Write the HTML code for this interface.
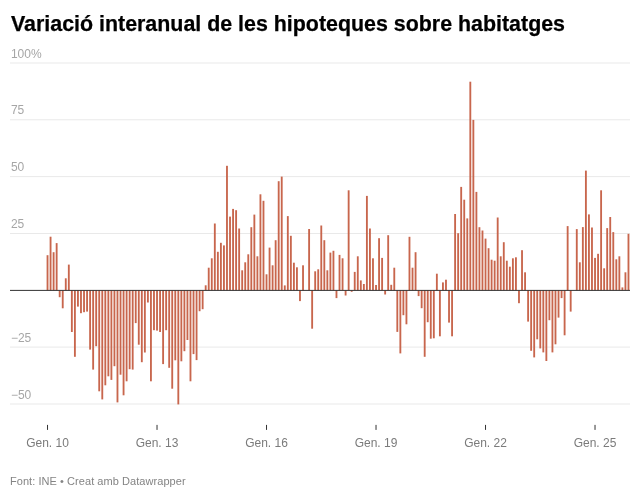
<!DOCTYPE html>
<html lang="ca"><head><meta charset="utf-8"><title>Variació interanual de les hipoteques sobre habitatges</title>
<style>
html,body{margin:0;padding:0;background:#fff;}
body{width:640px;height:498px;position:relative;overflow:hidden;font-family:"Liberation Sans",sans-serif;}
h1{position:absolute;left:11.2px;top:8.5px;margin:0;font-size:22.5px;line-height:30px;font-weight:700;color:#000;white-space:nowrap;letter-spacing:0px;word-spacing:0px;transform-origin:0 0;transform:scaleX(0.9508);-webkit-text-stroke:0.25px #000;}
svg{position:absolute;left:0;top:0;}
svg text{font-family:"Liberation Sans",sans-serif;}
.yl{font-size:12px;fill:#a6a6a6;}
.xl{font-size:12px;fill:#7b7b7b;text-anchor:middle;}
.ft{position:absolute;left:10px;top:473.6px;font-size:11px;line-height:14px;color:#848484;white-space:nowrap;letter-spacing:0.055px;}
</style></head><body>
<h1>Variació interanual de les hipoteques sobre habitatges</h1>
<svg width="640" height="498" viewBox="0 0 640 498">
<g stroke="#e9e9e9" stroke-width="1">
<line x1="10" x2="630" y1="63.0" y2="63.0"/>
<line x1="10" x2="630" y1="119.8" y2="119.8"/>
<line x1="10" x2="630" y1="176.6" y2="176.6"/>
<line x1="10" x2="630" y1="233.5" y2="233.5"/>
<line x1="10" x2="630" y1="347.1" y2="347.1"/>
<line x1="10" x2="630" y1="404.0" y2="404.0"/>
</g>
<g class="yl">
<text x="10.9" y="57.5">100%</text>
<text x="10.9" y="114.3">75</text>
<text x="10.9" y="171.1">50</text>
<text x="10.9" y="228.0">25</text>
<text x="10.9" y="341.6">−25</text>
<text x="10.9" y="398.5">−50</text>
</g>
<g fill="#c8664d">
<rect x="46.60" y="255.2" width="1.85" height="35.2"/>
<rect x="49.64" y="236.7" width="1.85" height="53.7"/>
<rect x="52.68" y="252.2" width="1.85" height="38.2"/>
<rect x="55.72" y="243.1" width="1.85" height="47.3"/>
<rect x="58.76" y="290.4" width="1.85" height="6.8"/>
<rect x="61.80" y="290.4" width="1.85" height="17.9"/>
<rect x="64.85" y="278.3" width="1.85" height="12.1"/>
<rect x="67.89" y="264.6" width="1.85" height="25.8"/>
<rect x="70.93" y="290.4" width="1.85" height="41.6"/>
<rect x="73.97" y="290.4" width="1.85" height="66.4"/>
<rect x="77.01" y="290.4" width="1.85" height="16.2"/>
<rect x="80.05" y="290.4" width="1.85" height="22.8"/>
<rect x="83.10" y="290.4" width="1.85" height="21.8"/>
<rect x="86.14" y="290.4" width="1.85" height="21.2"/>
<rect x="89.18" y="290.4" width="1.85" height="59.2"/>
<rect x="92.22" y="290.4" width="1.85" height="79.2"/>
<rect x="95.26" y="290.4" width="1.85" height="55.8"/>
<rect x="98.30" y="290.4" width="1.85" height="100.9"/>
<rect x="101.35" y="290.4" width="1.85" height="109.0"/>
<rect x="104.39" y="290.4" width="1.85" height="94.9"/>
<rect x="107.43" y="290.4" width="1.85" height="85.9"/>
<rect x="110.47" y="290.4" width="1.85" height="89.5"/>
<rect x="113.51" y="290.4" width="1.85" height="75.8"/>
<rect x="116.55" y="290.4" width="1.85" height="112.0"/>
<rect x="119.60" y="290.4" width="1.85" height="84.3"/>
<rect x="122.64" y="290.4" width="1.85" height="104.9"/>
<rect x="125.68" y="290.4" width="1.85" height="90.9"/>
<rect x="128.72" y="290.4" width="1.85" height="78.8"/>
<rect x="131.76" y="290.4" width="1.85" height="79.2"/>
<rect x="134.80" y="290.4" width="1.85" height="32.7"/>
<rect x="137.85" y="290.4" width="1.85" height="54.3"/>
<rect x="140.89" y="290.4" width="1.85" height="71.8"/>
<rect x="143.93" y="290.4" width="1.85" height="62.1"/>
<rect x="146.97" y="290.4" width="1.85" height="12.1"/>
<rect x="150.01" y="290.4" width="1.85" height="90.9"/>
<rect x="153.05" y="290.4" width="1.85" height="39.8"/>
<rect x="156.10" y="290.4" width="1.85" height="40.2"/>
<rect x="159.14" y="290.4" width="1.85" height="41.6"/>
<rect x="162.18" y="290.4" width="1.85" height="73.7"/>
<rect x="165.22" y="290.4" width="1.85" height="39.8"/>
<rect x="168.26" y="290.4" width="1.85" height="77.4"/>
<rect x="171.30" y="290.4" width="1.85" height="98.3"/>
<rect x="174.35" y="290.4" width="1.85" height="69.9"/>
<rect x="177.39" y="290.4" width="1.85" height="114.0"/>
<rect x="180.43" y="290.4" width="1.85" height="70.9"/>
<rect x="183.47" y="290.4" width="1.85" height="60.8"/>
<rect x="186.51" y="290.4" width="1.85" height="49.6"/>
<rect x="189.55" y="290.4" width="1.85" height="90.9"/>
<rect x="192.60" y="290.4" width="1.85" height="63.7"/>
<rect x="195.64" y="290.4" width="1.85" height="69.7"/>
<rect x="198.68" y="290.4" width="1.85" height="20.8"/>
<rect x="201.72" y="290.4" width="1.85" height="18.8"/>
<rect x="204.76" y="285.3" width="1.85" height="5.1"/>
<rect x="207.80" y="267.7" width="1.85" height="22.7"/>
<rect x="210.85" y="258.3" width="1.85" height="32.1"/>
<rect x="213.89" y="223.5" width="1.85" height="66.9"/>
<rect x="216.93" y="251.8" width="1.85" height="38.6"/>
<rect x="219.97" y="242.8" width="1.85" height="47.6"/>
<rect x="223.01" y="245.4" width="1.85" height="45.0"/>
<rect x="226.05" y="165.8" width="1.85" height="124.6"/>
<rect x="229.10" y="216.6" width="1.85" height="73.8"/>
<rect x="232.14" y="208.9" width="1.85" height="81.5"/>
<rect x="235.18" y="210.2" width="1.85" height="80.2"/>
<rect x="238.22" y="228.5" width="1.85" height="61.9"/>
<rect x="241.26" y="270.3" width="1.85" height="20.1"/>
<rect x="244.30" y="262.3" width="1.85" height="28.1"/>
<rect x="247.35" y="254.3" width="1.85" height="36.1"/>
<rect x="250.39" y="227.2" width="1.85" height="63.2"/>
<rect x="253.43" y="214.6" width="1.85" height="75.8"/>
<rect x="256.47" y="256.3" width="1.85" height="34.1"/>
<rect x="259.51" y="194.3" width="1.85" height="96.1"/>
<rect x="262.55" y="200.8" width="1.85" height="89.6"/>
<rect x="265.60" y="274.3" width="1.85" height="16.1"/>
<rect x="268.64" y="247.6" width="1.85" height="42.8"/>
<rect x="271.68" y="265.3" width="1.85" height="25.1"/>
<rect x="274.72" y="240.2" width="1.85" height="50.2"/>
<rect x="277.76" y="181.2" width="1.85" height="109.2"/>
<rect x="280.80" y="176.6" width="1.85" height="113.8"/>
<rect x="283.85" y="285.4" width="1.85" height="5.0"/>
<rect x="286.89" y="216.1" width="1.85" height="74.3"/>
<rect x="289.93" y="235.8" width="1.85" height="54.6"/>
<rect x="292.97" y="262.7" width="1.85" height="27.7"/>
<rect x="296.01" y="267.3" width="1.85" height="23.1"/>
<rect x="299.05" y="290.4" width="1.85" height="10.7"/>
<rect x="302.10" y="265.3" width="1.85" height="25.1"/>
<rect x="308.18" y="229.0" width="1.85" height="61.4"/>
<rect x="311.22" y="290.4" width="1.85" height="38.3"/>
<rect x="314.26" y="271.3" width="1.85" height="19.1"/>
<rect x="317.30" y="269.3" width="1.85" height="21.1"/>
<rect x="320.35" y="225.5" width="1.85" height="64.9"/>
<rect x="323.39" y="240.2" width="1.85" height="50.2"/>
<rect x="326.43" y="270.3" width="1.85" height="20.1"/>
<rect x="329.47" y="252.6" width="1.85" height="37.8"/>
<rect x="332.51" y="250.8" width="1.85" height="39.6"/>
<rect x="335.55" y="290.4" width="1.85" height="7.7"/>
<rect x="338.60" y="254.9" width="1.85" height="35.5"/>
<rect x="341.64" y="258.3" width="1.85" height="32.1"/>
<rect x="344.68" y="290.4" width="1.85" height="5.1"/>
<rect x="347.72" y="190.3" width="1.85" height="100.1"/>
<rect x="350.76" y="290.4" width="1.85" height="1.4"/>
<rect x="353.80" y="271.9" width="1.85" height="18.5"/>
<rect x="356.85" y="256.3" width="1.85" height="34.1"/>
<rect x="359.89" y="280.4" width="1.85" height="10.0"/>
<rect x="362.93" y="284.0" width="1.85" height="6.4"/>
<rect x="365.97" y="195.9" width="1.85" height="94.5"/>
<rect x="369.01" y="228.5" width="1.85" height="61.9"/>
<rect x="372.05" y="258.3" width="1.85" height="32.1"/>
<rect x="375.10" y="285.0" width="1.85" height="5.4"/>
<rect x="378.14" y="238.2" width="1.85" height="52.2"/>
<rect x="381.18" y="257.9" width="1.85" height="32.5"/>
<rect x="384.22" y="290.4" width="1.85" height="4.1"/>
<rect x="387.26" y="235.2" width="1.85" height="55.2"/>
<rect x="390.30" y="284.8" width="1.85" height="5.6"/>
<rect x="393.35" y="267.7" width="1.85" height="22.7"/>
<rect x="396.39" y="290.4" width="1.85" height="41.5"/>
<rect x="399.43" y="290.4" width="1.85" height="63.0"/>
<rect x="402.47" y="290.4" width="1.85" height="24.8"/>
<rect x="405.51" y="290.4" width="1.85" height="33.9"/>
<rect x="408.55" y="236.8" width="1.85" height="53.6"/>
<rect x="411.60" y="267.7" width="1.85" height="22.7"/>
<rect x="414.64" y="252.2" width="1.85" height="38.2"/>
<rect x="417.68" y="290.4" width="1.85" height="5.7"/>
<rect x="420.72" y="290.4" width="1.85" height="17.8"/>
<rect x="423.76" y="290.4" width="1.85" height="66.4"/>
<rect x="426.80" y="290.4" width="1.85" height="31.8"/>
<rect x="429.85" y="290.4" width="1.85" height="48.3"/>
<rect x="432.89" y="290.4" width="1.85" height="47.9"/>
<rect x="435.93" y="273.7" width="1.85" height="16.7"/>
<rect x="438.97" y="290.4" width="1.85" height="45.9"/>
<rect x="442.01" y="282.4" width="1.85" height="8.0"/>
<rect x="445.05" y="279.7" width="1.85" height="10.7"/>
<rect x="448.10" y="290.4" width="1.85" height="32.2"/>
<rect x="451.14" y="290.4" width="1.85" height="45.9"/>
<rect x="454.18" y="214.0" width="1.85" height="76.4"/>
<rect x="457.22" y="233.2" width="1.85" height="57.2"/>
<rect x="460.26" y="186.9" width="1.85" height="103.5"/>
<rect x="463.30" y="199.7" width="1.85" height="90.7"/>
<rect x="466.35" y="218.4" width="1.85" height="72.0"/>
<rect x="469.39" y="81.7" width="1.85" height="208.7"/>
<rect x="472.43" y="119.9" width="1.85" height="170.5"/>
<rect x="475.47" y="191.9" width="1.85" height="98.5"/>
<rect x="478.51" y="227.2" width="1.85" height="63.2"/>
<rect x="481.55" y="230.5" width="1.85" height="59.9"/>
<rect x="484.60" y="238.6" width="1.85" height="51.8"/>
<rect x="487.64" y="248.2" width="1.85" height="42.2"/>
<rect x="490.68" y="259.7" width="1.85" height="30.7"/>
<rect x="493.72" y="260.7" width="1.85" height="29.7"/>
<rect x="496.76" y="217.5" width="1.85" height="72.9"/>
<rect x="499.80" y="256.3" width="1.85" height="34.1"/>
<rect x="502.85" y="242.2" width="1.85" height="48.2"/>
<rect x="505.89" y="260.7" width="1.85" height="29.7"/>
<rect x="508.93" y="266.7" width="1.85" height="23.7"/>
<rect x="511.97" y="258.3" width="1.85" height="32.1"/>
<rect x="515.01" y="257.3" width="1.85" height="33.1"/>
<rect x="518.05" y="290.4" width="1.85" height="12.8"/>
<rect x="521.10" y="250.2" width="1.85" height="40.2"/>
<rect x="524.14" y="272.3" width="1.85" height="18.1"/>
<rect x="527.18" y="290.4" width="1.85" height="31.2"/>
<rect x="530.22" y="290.4" width="1.85" height="60.4"/>
<rect x="533.26" y="290.4" width="1.85" height="67.0"/>
<rect x="536.30" y="290.4" width="1.85" height="48.9"/>
<rect x="539.35" y="290.4" width="1.85" height="58.0"/>
<rect x="542.39" y="290.4" width="1.85" height="62.0"/>
<rect x="545.43" y="290.4" width="1.85" height="70.6"/>
<rect x="548.47" y="290.4" width="1.85" height="29.8"/>
<rect x="551.51" y="290.4" width="1.85" height="62.0"/>
<rect x="554.55" y="290.4" width="1.85" height="53.9"/>
<rect x="557.60" y="290.4" width="1.85" height="27.2"/>
<rect x="560.64" y="290.4" width="1.85" height="7.7"/>
<rect x="563.68" y="290.4" width="1.85" height="44.9"/>
<rect x="566.72" y="226.1" width="1.85" height="64.3"/>
<rect x="569.76" y="290.4" width="1.85" height="21.2"/>
<rect x="575.85" y="229.1" width="1.85" height="61.3"/>
<rect x="578.89" y="262.3" width="1.85" height="28.1"/>
<rect x="581.93" y="227.1" width="1.85" height="63.3"/>
<rect x="584.97" y="170.6" width="1.85" height="119.8"/>
<rect x="588.01" y="214.4" width="1.85" height="76.0"/>
<rect x="591.05" y="227.5" width="1.85" height="62.9"/>
<rect x="594.10" y="257.9" width="1.85" height="32.5"/>
<rect x="597.14" y="253.8" width="1.85" height="36.6"/>
<rect x="600.18" y="190.3" width="1.85" height="100.1"/>
<rect x="603.22" y="268.3" width="1.85" height="22.1"/>
<rect x="606.26" y="228.1" width="1.85" height="62.3"/>
<rect x="609.30" y="217.0" width="1.85" height="73.4"/>
<rect x="612.35" y="232.1" width="1.85" height="58.3"/>
<rect x="615.39" y="259.3" width="1.85" height="31.1"/>
<rect x="618.43" y="256.3" width="1.85" height="34.1"/>
<rect x="621.47" y="287.4" width="1.85" height="3.0"/>
<rect x="624.51" y="272.3" width="1.85" height="18.1"/>
<rect x="627.55" y="233.8" width="1.85" height="56.6"/>
</g>
<line x1="10" x2="630" y1="290.4" y2="290.4" stroke="#333333" stroke-width="1"/>
<g stroke="#333" stroke-width="1">
<line x1="47.52" x2="47.52" y1="424.9" y2="429.9"/>
<line x1="157.02" x2="157.02" y1="424.9" y2="429.9"/>
<line x1="266.52" x2="266.52" y1="424.9" y2="429.9"/>
<line x1="376.02" x2="376.02" y1="424.9" y2="429.9"/>
<line x1="485.52" x2="485.52" y1="424.9" y2="429.9"/>
<line x1="595.02" x2="595.02" y1="424.9" y2="429.9"/>
</g>
<g class="xl">
<text x="47.52" y="447.2">Gen. 10</text>
<text x="157.02" y="447.2">Gen. 13</text>
<text x="266.52" y="447.2">Gen. 16</text>
<text x="376.02" y="447.2">Gen. 19</text>
<text x="485.52" y="447.2">Gen. 22</text>
<text x="595.02" y="447.2">Gen. 25</text>
</g>
</svg>
<div class="ft">Font: INE • Creat amb Datawrapper</div>
</body></html>
